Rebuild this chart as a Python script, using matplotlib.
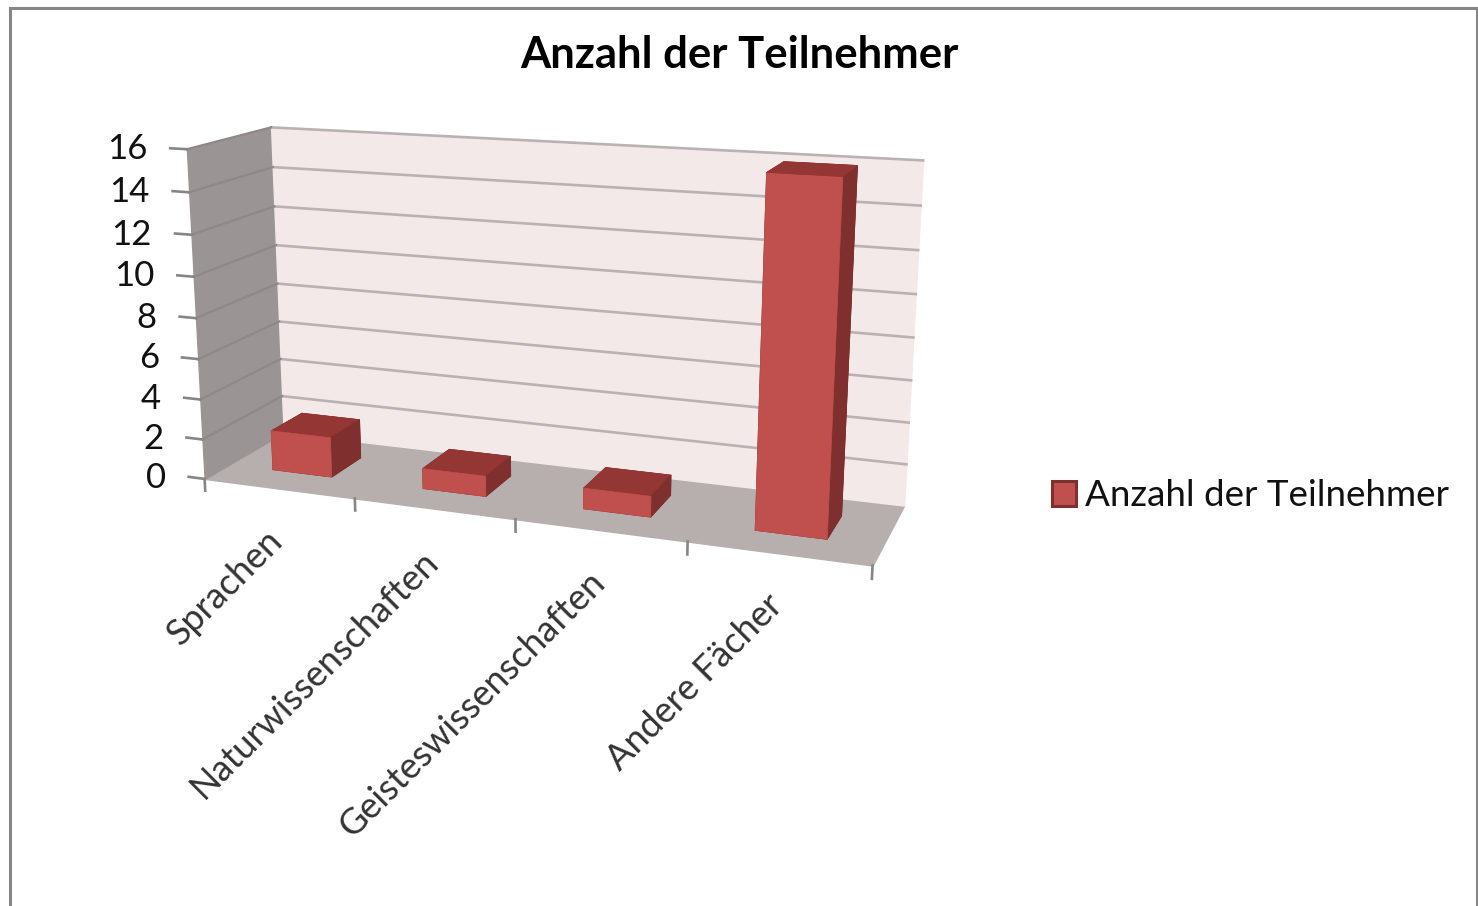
import numpy as np
import matplotlib
matplotlib.use("Agg")
import matplotlib.pyplot as plt
from matplotlib.patches import Patch
from matplotlib.lines import Line2D
from matplotlib.transforms import Affine2D
from mpl_toolkits.mplot3d.art3d import Poly3DCollection

title = "Anzahl der Teilnehmer"
categories = ["Sprachen", "Naturwissenschaften", "Geisteswissenschaften", "Andere Fächer"]
values = [2, 1, 1, 16]
y_ticks = [0, 2, 4, 6, 8, 10, 12, 14, 16]

W, H_PX = 1478, 906
plt.rcParams["font.family"] = ["Lato", "DejaVu Sans"]

# camera calibration: (category pos, depth, value) -> (pixel x, pixel y from top)
calib = [
    (0, 0, 0, 205, 478), (1, 0, 0, 354, 497), (2, 0, 0, 517, 520), (3, 0, 0, 688, 541), (4, 0, 0, 872, 567),
    (0, 0, 16, 186, 150), (0, 1, 16, 272, 127), (0, 1, 0, 283, 434),
    (4, 1, 16, 923, 160), (4, 1, 0, 904, 505),
]
rows = []
for X, Y, Z, u, v in calib:
    p = [X, Y, Z, 1]
    rows.append(p + [0, 0, 0, 0] + [-u * c for c in p])
    rows.append([0, 0, 0, 0] + p + [-v * c for c in p])
P = np.linalg.svd(np.array(rows, float))[2][-1].reshape(3, 4)
if (P[2] @ [2, 0.5, 8, 1]) < 0:
    P = -P
P = P / (P[2] @ [2, 0.5, 8, 1])


def project(X, Y, Z):
    q = P @ [X, Y, Z, 1]
    return q[0] / q[2], q[1] / q[2]


fig = plt.figure(figsize=(W / 100, H_PX / 100), dpi=100, facecolor="white")
ax = fig.add_axes([0, 0, 1, 1], projection="3d", computed_zorder=False, proj_type="ortho")
ax.patch.set_visible(False)
ax.set_axis_off()
ax.apply_aspect = lambda position=None: None


def get_proj():
    A = ax.transData.inverted().get_matrix()
    disp = np.array([P[0], H_PX * P[2] - P[1], P[2]])
    top = A @ disp
    return np.array([top[0], top[1], P[2] - np.array([0, 0, 0, 1.0]), P[2]])


ax.get_proj = get_proj
pixel = Affine2D().scale(1, -1).translate(0, H_PX)

xmax = len(categories)
zmax = y_ticks[-1]

# floor and walls
ax.add_collection3d(Poly3DCollection([[(0, 0, 0), (xmax, 0, 0), (xmax, 1, 0), (0, 1, 0)]],
                                     facecolor="#B7AEAE", edgecolor="#B7AEAE", zorder=1))
ax.add_collection3d(Poly3DCollection([[(0, 0, 0), (0, 1, 0), (0, 1, zmax), (0, 0, zmax)]],
                                     facecolor="#9B9494", edgecolor="#9B9494", zorder=1))
ax.add_collection3d(Poly3DCollection([[(0, 1, 0), (xmax, 1, 0), (xmax, 1, zmax), (0, 1, zmax)]],
                                     facecolor="#F4E9E9", edgecolor="#F4E9E9", zorder=1))

# gridlines
for t in y_ticks:
    if t > 0:
        ax.plot([0, xmax], [1, 1], [t, t], color="#BAB2B2", lw=1.9, zorder=2)
        ax.plot([0, 0], [0, 1], [t, t], color="#8E8888", lw=1.6, zorder=2)
    ax.plot([-0.11, 0], [0, 0], [t, t], color="#868686", lw=1.9, zorder=2)
    px, py = project(-0.11, 0, t)
    ax.text2D(px - 23, py + 1, str(t), transform=pixel, ha="right", va="center",
              fontsize=25, color="#111111")

# category ticks and labels
for i in range(xmax + 1):
    ax.plot([i, i], [0, 0], [0, -0.6], color="#868686", lw=1.9, zorder=2)
for i, c in enumerate(categories):
    px, py = project(i + 0.5, 0, 0)
    ax.text2D(px - 1, py + 47, c, transform=pixel, rotation=45, rotation_mode="anchor",
              ha="right", va="center", fontsize=26, color="#333333")

# bars
front, side, top_c = "#C0504D", "#7F2F2D", "#933634"
xpos = np.arange(xmax) + 0.3
ypos = np.full(xmax, 0.3)
zpos = np.zeros(xmax)
cols = [side, top_c, front, side, side, side] * xmax
ax.bar3d(xpos, ypos, zpos, 0.4, 0.4, values, color=cols, shade=False, edgecolor=cols,
         linewidth=0.5, zorder=3)

fig.suptitle(title, x=739 / W, y=1 - 55 / H_PX, va="center", ha="center",
             fontsize=31.4, fontweight="bold", color="black")

leg = fig.legend(handles=[Patch(facecolor=front, edgecolor=side, linewidth=2.2, label=title)],
                 loc="center left", bbox_to_anchor=(1052 / W, 1 - 496 / H_PX), frameon=False,
                 borderpad=0, borderaxespad=0,
                 fontsize=26.5, handlelength=0.65, handleheight=0.65, handletextpad=0.245, labelcolor="#111111")

# chart frame
for xs, ys in [((9.5, 9.5), (906, 7.5)), ((9.5, 1476.5), (7.5, 7.5)), ((1476.5, 1476.5), (7.5, 906))]:
    fig.add_artist(Line2D(xs, ys, transform=pixel, color="#868686", lw=2.2))

fig.savefig("out.png", dpi=100)
